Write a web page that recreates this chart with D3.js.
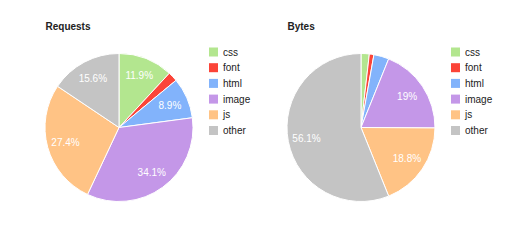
<!DOCTYPE html>
<html>
<head>
<script src="https://d3js.org/d3.v7.min.js"></script>
<style>
body { margin: 0; background: #fff; font-family: "Liberation Sans", Arial, sans-serif; }
</style>
</head>
<body>
<div id="chart"></div>
<script>
// data
const categories = ["css", "font", "html", "image", "js", "other"];
const requestValues = [11.9, 2.1, 8.9, 34.1, 27.4, 15.6];
const byteValues = [1.8, 1.0, 3.3, 19, 18.8, 56.1];
const colors = ["#b3e68f", "#fb4438", "#82b3fb", "#c497e8", "#ffc385", "#c4c4c4"];

const svg = d3.select("#chart").append("svg")
  .attr("width", 510)
  .attr("height", 241);

const color = d3.scaleOrdinal().domain(categories).range(colors);

function drawPie(title, values, ox) {
  const g = svg.append("g").attr("transform", `translate(${ox},0)`);
  const r = 74;
  const cx = 119, cy = 127.5;

  g.append("text")
    .attr("x", 45.5)
    .attr("y", 30)
    .style("font-size", "10px")
    .style("font-weight", "bold")
    .style("fill", "#222")
    .text(title);

  const data = categories.map((c, i) => ({ cat: c, value: values[i] }));
  const pie = d3.pie().sort(null).value(d => d.value);
  const arc = d3.arc().innerRadius(0).outerRadius(r);
  const labelArc = d3.arc().innerRadius(r * 0.75).outerRadius(r * 0.75);

  const pg = g.append("g").attr("transform", `translate(${cx},${cy})`);
  const arcs = pie(data);
  pg.selectAll("path")
    .data(arcs)
    .enter().append("path")
    .attr("d", arc)
    .attr("fill", d => color(d.data.cat))
    .attr("stroke", "#fff")
    .attr("stroke-width", 1);

  pg.selectAll("text")
    .data(arcs.filter(d => d.data.value > 5))
    .enter().append("text")
    .attr("transform", d => `translate(${labelArc.centroid(d)})`)
    .attr("text-anchor", "middle")
    .attr("dy", "0.35em")
    .style("font-size", "10px")
    .style("fill", "#fff")
    .text(d => d.data.value + "%");

  // legend
  const leg = g.append("g").attr("transform", "translate(209,47.5)");
  const row = leg.selectAll("g")
    .data(categories)
    .enter().append("g")
    .attr("transform", (d, i) => `translate(0,${i * 15.7})`);
  row.append("rect")
    .attr("width", 9)
    .attr("height", 9)
    .attr("fill", d => color(d));
  row.append("text")
    .attr("x", 14)
    .attr("y", 4.5)
    .attr("dy", "0.35em")
    .style("font-size", "10px")
    .style("fill", "#222")
    .text(d => d);
}

drawPie("Requests", requestValues, 0);
drawPie("Bytes", byteValues, 242);
</script>
</body>
</html>
